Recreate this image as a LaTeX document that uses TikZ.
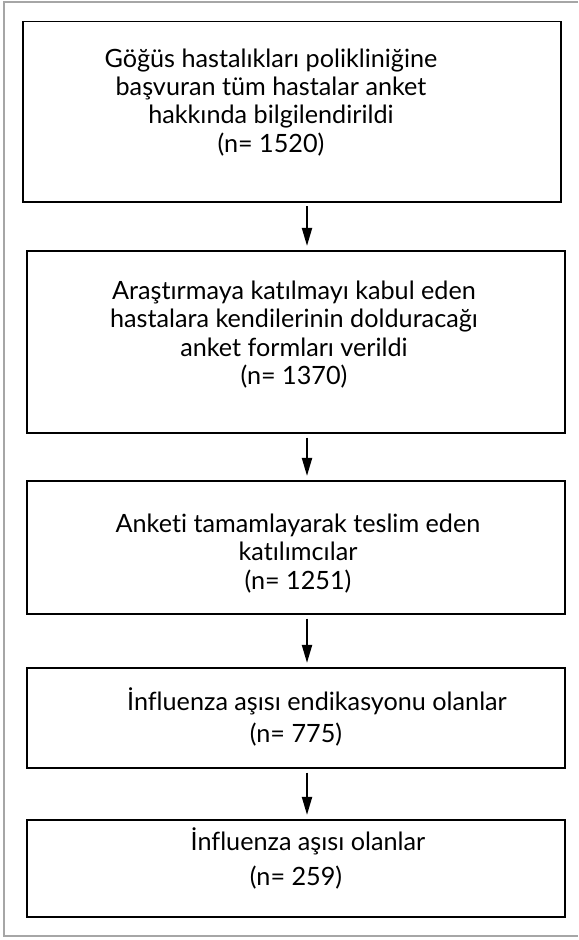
\documentclass[tikz,border=0pt]{standalone}
\usepackage{fontspec}
\setmainfont{Lato}[Ligatures = NoCommon]
\usetikzlibrary{arrows.meta}
\usetikzlibrary{positioning}

\begin{document}
\begin{tikzpicture}
  [
    x = 1pt, y = 1pt,
    box/.style = {rectangle, draw, line width = 0.7pt, minimum width = 269pt,
                  inner sep = 0pt, outer sep = 0pt},
    txt/.style = {font = \fontsize{12.6}{14.2}\selectfont, align = center, inner sep = 0pt},
    frame/.style = {draw = black!35, line width = 1pt},
    arrow/.style = {-{Triangle[length = 9pt, width = 5pt]}, line width = 1pt,
                    shorten < = 2.3pt, shorten > = 2.5pt},
  ]
  \useasboundingbox (0,0) rectangle (289,-470);
  % outer frame, open on the right
  \draw[frame] (289,-1) -- (2.15,-1) -- (2.15,-468.2) -- (289,-468.2);

  \node[box, minimum height = 90.3pt] (b1) at (146,-55.8) {};
  \node[box, minimum height = 91pt] [below = 24.5pt of b1, xshift = 2pt] (b2) {};
  \node[box, minimum height = 66.5pt] [below = 24pt of b2] (b3) {};
  \node[box, minimum height = 50pt] [below = 27pt of b3] (b4) {};
  \node[box, minimum height = 48.5pt] [below = 26pt of b4] (b5) {};

  \node[txt] (t1) at ([xshift = -10.5pt, yshift = 4.7pt]b1.center)
      {Göğüs hastalıkları polikliniğine\\başvuran tüm hastalar anket\\hakkında bilgilendirildi\\(n= 1520)};
  \node[txt] (t2) at ([xshift = -1pt, yshift = 3.6pt]b2.center)
      {Araştırmaya katılmayı kabul eden\\hastalara kendilerinin dolduracağı\\anket formları verildi\\(n= 1370)};
  \node[txt] (t3) at ([xshift = 1pt, yshift = -2.9pt]b3.center)
      {Anketi tamamlayarak teslim eden\\katılımcılar\\(n= 1251)};
  \node[txt] (t4) at ([yshift = 0.7pt]b4.center)
      {\hspace*{21pt}İnfluenza aşısı endikasyonu olanlar\\[1.8pt](n= 775)};
  \node[txt] (t5) at ([yshift = 5.1pt]b5.center)
      {\hspace*{12pt}İnfluenza aşısı olanlar\\[3.5pt](n= 259)};

  \draw[arrow] ([xshift = 7.5pt]b1.south) -- ([xshift = 5.5pt]b2.north);
  \draw[arrow] ([xshift = 5.5pt]b2.south) -- ([xshift = 5.5pt]b3.north);
  \draw[arrow] ([xshift = 5.5pt]b3.south) -- ([xshift = 5.5pt]b4.north);
  \draw[arrow] ([xshift = 5.5pt]b4.south) -- ([xshift = 5.5pt]b5.north);
\end{tikzpicture}
\end{document}
